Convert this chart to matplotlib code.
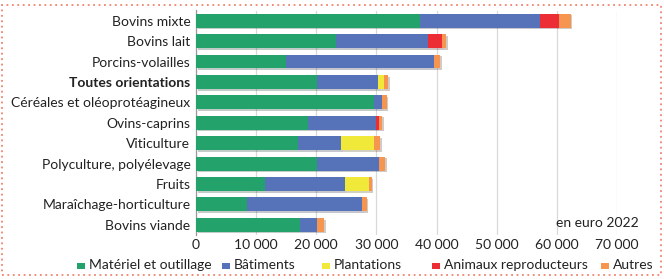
import numpy as np
import matplotlib
matplotlib.use('Agg')
import matplotlib.pyplot as plt
from matplotlib.patches import Rectangle
import matplotlib.patheffects as pe
from matplotlib.ticker import FuncFormatter

plt.rcParams['font.family'] = ['Lato', 'DejaVu Sans']

orientations = ['Bovins mixte', 'Bovins lait', 'Porcins-volailles', 'Toutes orientations',
                'Céréales et oléoprotéagineux', 'Ovins-caprins', 'Viticulture',
                'Polyculture, polyélevage', 'Fruits', 'Maraîchage-horticulture', 'Bovins viande']
materiel = [37200, 23300, 14900, 20200, 29600, 18600, 16900, 20200, 11500, 8500, 17300]
batiments = [20000, 15300, 24700, 10100, 1400, 11300, 7200, 10300, 13200, 19100, 2900]
plantations = [0, 0, 0, 900, 0, 0, 5500, 0, 4000, 0, 0]
animaux = [3100, 2300, 0, 0, 0, 450, 0, 0, 0, 0, 0]
autres = [2000, 700, 1000, 800, 700, 650, 1000, 900, 500, 800, 1100]

series = [('Matériel et outillage', materiel, '#23a26c'),
          ('Bâtiments', batiments, '#5672b9'),
          ('Plantations', plantations, '#f0e93a'),
          ('Animaux reproducteurs', animaux, '#ec2d35'),
          ('Autres', autres, '#f5954f')]

FS = 10
W, H = 664, 279
fig = plt.figure(figsize=(W / 100, H / 100), dpi=100)
ax = fig.add_axes([196 / W, 1 - 235 / H, (617 - 196) / W, (235 - 10.5) / H])

y = np.arange(len(orientations))
left = np.zeros(len(orientations))
for name, vals, col in series:
    bars = ax.barh(y, vals, left=left, height=0.68, color=col, zorder=3)
    for b in bars:
        b.set_path_effects([pe.SimplePatchShadow(offset=(1.2, -1.2), alpha=0.25), pe.Normal()])
    left += np.array(vals)

ax.set_xlim(0, 70000)
ax.set_ylim(len(orientations) - 0.5, -0.5)
ax.set_yticks(y)
ax.set_yticklabels(orientations, fontsize=FS)
ax.get_yticklabels()[3].set_fontweight('bold')
ax.set_xticks(np.arange(0, 70001, 10000))
ax.xaxis.set_major_formatter(FuncFormatter(lambda v, p: f'{int(v):,}'.replace(',', ' ')))
ax.tick_params(axis='both', length=0, labelsize=FS, colors='#222222')
ax.tick_params(axis='y', pad=4)
ax.tick_params(axis='x', pad=3)
ax.grid(axis='x', color='#d9d9d9', linewidth=0.9, zorder=0)
for s in ['top', 'right', 'bottom']:
    ax.spines[s].set_visible(False)
ax.spines['left'].set_color('#999999')
ax.spines['left'].set_linewidth(0.9)

fig.text(639 / W, 1 - 223 / H, 'en euro 2022', ha='right', va='center', fontsize=FS, color='#222222')

# legend laid out by hand, like the original
leg_x = [77, 222, 322, 432, 601]
for (name, vals, col), x0 in zip(series, leg_x):
    fig.patches.append(Rectangle((x0 / W, 1 - 269 / H), 8 / W, 6 / H, transform=fig.transFigure,
                                 facecolor=col, edgecolor='none'))
    fig.text((x0 + 12) / W, 1 - 265 / H, name, ha='left', va='center', fontsize=FS, color='#222222')

# dotted frame
fig.patches.append(Rectangle((2 / W, 1 - 275 / H), 659 / W, 270 / H, transform=fig.transFigure,
                             fill=False, edgecolor='#f0826f', linewidth=1.3, linestyle=(0, (1, 2))))

fig.savefig('out.png', dpi=100)
